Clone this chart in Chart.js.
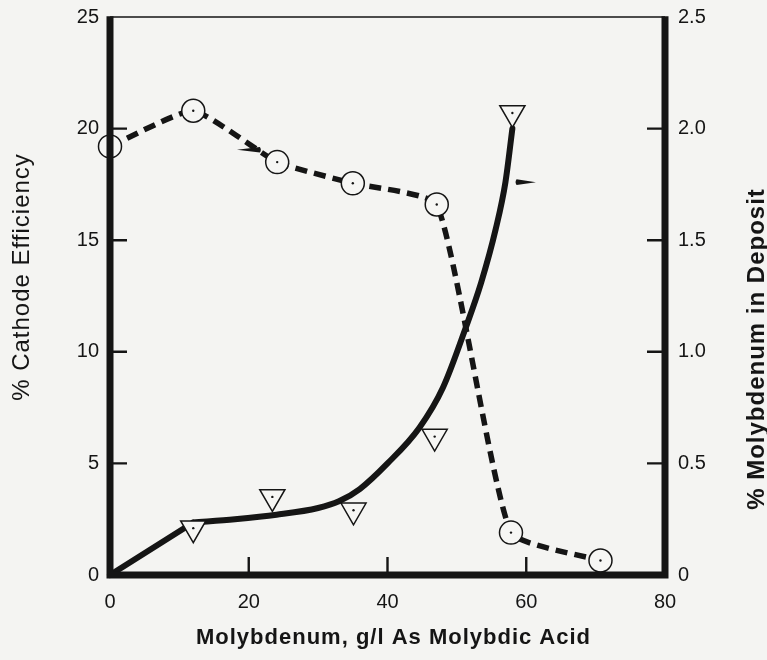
<!DOCTYPE html>
<html>
<head>
<meta charset="utf-8">
<script src="https://cdn.jsdelivr.net/npm/chart.js@4.4.1/dist/chart.umd.min.js"></script>
<style>
  html, body { margin: 0; padding: 0; background: #f4f4f2; }
  #wrap { width: 767px; height: 660px; position: relative; }
</style>
</head>
<body>
<div id="wrap"><canvas id="chart" width="767" height="660"></canvas></div>
<script>
// Axis tick values
const concentrationTicks = [0, 20, 40, 60, 80];
const efficiencyTicks = [0, 5, 10, 15, 20, 25];
const depositTicks = [0, 0.5, 1.0, 1.5, 2.0, 2.5];

// Cathode efficiency (%), circles, left axis
const efficiencyX = [0, 12, 24.1, 35.0, 47.1, 57.8, 70.7];
const efficiencyY = [19.2, 20.8, 18.5, 17.55, 16.6, 1.9, 0.65];

// Molybdenum in deposit (%), triangles, right axis
const depositX = [12, 23.4, 35.1, 46.8, 58];
const depositY = [0.21, 0.35, 0.29, 0.62, 2.07];

// Trend through the deposit measurements: straight rise, then a smooth curve
const trendRiseX = [0, 12];
const trendRiseY = [0, 0.235];
const trendCurveX = [12, 18, 24, 30, 33, 36, 40, 44.6, 48, 51.3, 53.5, 55.6, 57, 58];
const trendCurveY = [0.235, 0.25, 0.27, 0.30, 0.33, 0.385, 0.50, 0.66, 0.84, 1.11, 1.31, 1.55, 1.76, 2.0];

// Small pointers telling which axis each curve belongs to
const pointerTipX = [18.3, 61.4];
const pointerTailX = [21.6, 58.6];
const pointerY = [19.05, 1.76];
const pointerAxis = ['y', 'y1'];

const INK = '#151515';
const PAPER = '#f6f6f4';
const FONT = '"Liberation Sans", Arial, Helvetica, sans-serif';

const toPoints = (xs, ys) => xs.map((x, i) => ({ x: x, y: ys[i] }));

// Frame, inward tick marks, centre dots, pointers and axis titles
const decorations = {
  id: 'decorations',
  afterDatasetsDraw(chart) {
    const { ctx, scales } = chart;
    ctx.save();
    // centre dots in each marker
    [2, 3].forEach(di => {
      chart.getDatasetMeta(di).data.forEach(pt => {
        ctx.beginPath();
        ctx.fillStyle = INK;
        ctx.arc(pt.x, pt.y, 1.2, 0, Math.PI * 2);
        ctx.fill();
      });
    });
    // pointers
    pointerTipX.forEach((tx, i) => {
      const sy = scales[pointerAxis[i]];
      const x1 = scales.x.getPixelForValue(tx);
      const x2 = scales.x.getPixelForValue(pointerTailX[i]);
      const y = sy.getPixelForValue(pointerY[i]);
      ctx.beginPath();
      ctx.fillStyle = INK;
      ctx.moveTo(x1, y);
      ctx.lineTo(x2, y - 2.8);
      ctx.quadraticCurveTo(x2 + (x2 > x1 ? 2 : -2), y, x2, y + 2.8);
      ctx.closePath();
      ctx.fill();
    });
    ctx.restore();
  },
  afterDraw(chart) {
    const { ctx, chartArea: a, scales } = chart;
    ctx.save();
    ctx.strokeStyle = INK;
    ctx.lineCap = 'butt';
    // thin top edge
    ctx.lineWidth = 1.6;
    ctx.beginPath();
    ctx.moveTo(a.left, a.top);
    ctx.lineTo(a.right, a.top);
    ctx.stroke();
    // heavy left, bottom and right axes
    ctx.lineWidth = 7;
    ctx.beginPath();
    ctx.moveTo(a.left, a.top - 0.8);
    ctx.lineTo(a.left, a.bottom + 3.5);
    ctx.moveTo(a.left - 3.5, a.bottom);
    ctx.lineTo(a.right + 3.5, a.bottom);
    ctx.moveTo(a.right, a.bottom + 3.5);
    ctx.lineTo(a.right, a.top - 0.8);
    ctx.stroke();
    // inward tick marks
    ctx.lineWidth = 2.4;
    ctx.beginPath();
    concentrationTicks.slice(1, -1).forEach(v => {
      const x = scales.x.getPixelForValue(v);
      ctx.moveTo(x, a.bottom);
      ctx.lineTo(x, a.bottom - 18);
    });
    efficiencyTicks.slice(1, -1).forEach(v => {
      const y = scales.y.getPixelForValue(v);
      ctx.moveTo(a.left, y);
      ctx.lineTo(a.left + 17, y);
    });
    depositTicks.slice(1, -1).forEach(v => {
      const y = scales.y1.getPixelForValue(v);
      ctx.moveTo(a.right, y);
      ctx.lineTo(a.right - 18, y);
    });
    ctx.stroke();

    // axis titles
    ctx.fillStyle = INK;
    ctx.textAlign = 'center';
    ctx.textBaseline = 'middle';

    ctx.save();
    ctx.translate(a.left - 88, a.top + 260);
    ctx.rotate(-Math.PI / 2);
    ctx.font = '24px ' + FONT;
    ctx.letterSpacing = '1px';
    ctx.fillText('% Cathode Efficiency', 0, 0);
    ctx.restore();

    ctx.save();
    ctx.translate(a.right + 92, a.top + 332);
    ctx.rotate(-Math.PI / 2);
    ctx.font = 'bold 24px ' + FONT;
    ctx.letterSpacing = '1px';
    ctx.fillText('% Molybdenum in Deposit', 0, 0);
    ctx.restore();

    ctx.save();
    ctx.font = 'bold 22px ' + FONT;
    ctx.letterSpacing = '1px';
    ctx.fillText('Molybdenum, g/l As Molybdic Acid', (a.left + a.right) / 2 + 6, a.bottom + 63);
    ctx.restore();

    ctx.restore();
  }
};

const tickFont = { family: FONT, size: 20 };

const trendStyle = {
  yAxisID: 'y1',
  showLine: true,
  borderColor: INK,
  borderWidth: 6,
  borderCapStyle: 'round',
  borderJoinStyle: 'round',
  pointRadius: 0,
  clip: false,
  order: 3
};

// Fixed axis box sizes, with no extra room reserved for end labels
const fixVertical = w => s => { s.width = w; s.paddingTop = 0; s.paddingBottom = 0; };

new Chart(document.getElementById('chart'), {
  type: 'scatter',
  data: {
    datasets: [
      Object.assign({ label: 'Mo in deposit trend (rise)', data: toPoints(trendRiseX, trendRiseY), tension: 0 }, trendStyle),
      Object.assign({ label: 'Mo in deposit trend', data: toPoints(trendCurveX, trendCurveY), cubicInterpolationMode: 'monotone' }, trendStyle),
      {
        label: 'Cathode efficiency',
        data: toPoints(efficiencyX, efficiencyY),
        yAxisID: 'y',
        showLine: true,
        borderColor: INK,
        borderWidth: 5.5,
        borderDash: [12, 7],
        tension: 0.15,
        pointStyle: 'circle',
        pointRadius: 11.5,
        pointBorderWidth: 1.5,
        pointBorderColor: INK,
        pointBackgroundColor: PAPER,
        clip: false,
        order: 2
      },
      {
        label: 'Mo in deposit',
        data: toPoints(depositX, depositY),
        yAxisID: 'y1',
        showLine: false,
        pointStyle: 'triangle',
        rotation: 180,
        pointRadius: 14.5,
        pointBorderWidth: 1.5,
        pointBorderColor: INK,
        pointBackgroundColor: PAPER,
        clip: false,
        order: 1
      }
    ]
  },
  options: {
    responsive: false,
    animation: false,
    devicePixelRatio: 1,
    layout: { padding: { top: 17, left: 0, right: 0, bottom: 0 } },
    plugins: { legend: { display: false }, tooltip: { enabled: false } },
    scales: {
      x: {
        type: 'linear',
        position: 'bottom',
        min: 0, max: 80,
        afterBuildTicks: s => { s.ticks = concentrationTicks.map(v => ({ value: v })); },
        afterFit: s => { s.height = 85; s.paddingLeft = 0; s.paddingRight = 0; },
        grid: { display: false, drawTicks: false },
        border: { display: false },
        ticks: { color: INK, font: tickFont, padding: 15, maxRotation: 0 }
      },
      y: {
        type: 'linear',
        position: 'left',
        min: 0, max: 25,
        afterBuildTicks: s => { s.ticks = efficiencyTicks.map(v => ({ value: v })); },
        afterFit: fixVertical(110),
        grid: { display: false, drawTicks: false },
        border: { display: false },
        ticks: { color: INK, font: tickFont, padding: 11, callback: v => String(v) }
      },
      y1: {
        type: 'linear',
        position: 'right',
        min: 0, max: 2.5,
        afterBuildTicks: s => { s.ticks = depositTicks.map(v => ({ value: v })); },
        afterFit: fixVertical(102),
        grid: { display: false, drawTicks: false },
        border: { display: false },
        ticks: { color: INK, font: tickFont, padding: 13, callback: v => (v === 0 ? '0' : v.toFixed(1)) }
      }
    }
  },
  plugins: [decorations]
});
</script>
</body>
</html>
